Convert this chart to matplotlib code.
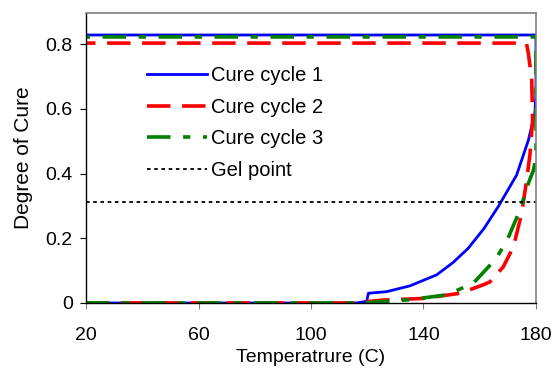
import matplotlib
matplotlib.use("Agg")
import matplotlib.pyplot as plt

plt.rcParams['font.family'] = ['Liberation Sans', 'DejaVu Sans']

# temperature (C) and degree of cure
temp_c1 = [20, 116, 119.8, 120.4, 126.9, 135.2, 144.7, 150.5, 155.9, 161.5, 166.6, 173.1, 177.3, 179.6, 180, 180, 20]
cure_c1 = [0, 0, 0.005, 0.03, 0.035, 0.053, 0.087, 0.125, 0.169, 0.23, 0.298, 0.395, 0.503, 0.587, 0.65, 0.828, 0.828]

temp_c2 = [20, 115, 125.6, 139.8, 153, 161.2, 163.6, 168.4, 172, 174.9, 176.7, 177.9, 178.8, 178.5, 177.3, 176.6, 20]
cure_c2 = [0, 0, 0.009, 0.014, 0.03, 0.056, 0.065, 0.112, 0.174, 0.277, 0.38, 0.462, 0.565, 0.689, 0.771, 0.803, 0.803]

temp_c3 = [20, 118, 135, 148.2, 157.7, 165.4, 169.5, 174.3, 177.3, 179.1, 180, 180, 20]
cure_c3 = [0, 0, 0.01, 0.025, 0.061, 0.133, 0.189, 0.287, 0.37, 0.41, 0.45, 0.822, 0.822]

gel_point = 0.312

labels = ['Cure cycle 1', 'Cure cycle 2', 'Cure cycle 3', 'Gel point']
x_ticks = [20, 60, 100, 140, 180]
y_ticks = [0, 0.2, 0.4, 0.6, 0.8]
y_ticklabels = ['0', '0.2', '0.4', '0.6', '0.8']

fig = plt.figure(figsize=(5.56, 3.69), dpi=100)
ax = fig.add_axes([0.1547, 0.1789, 0.964 - 0.1547, 0.9648 - 0.1789])

ax.plot(temp_c1, cure_c1, color='#0000ff', lw=2.0, label=labels[0])
ax.plot(temp_c2, cure_c2, color='#ff0000', lw=2.6, dashes=(6.5, 3.2), label=labels[1])
ax.plot(temp_c3, cure_c3, color='#008000', lw=2.6, dashes=(6.5, 3.5, 2, 3.5), label=labels[2])
ax.plot([20, 180], [gel_point, gel_point], color='black', lw=1.3, dashes=(2, 2), label=labels[3])

ax.set_xlim(20, 180)
ax.set_ylim(0, 0.896)
ax.set_xticks(x_ticks)
ax.set_yticks(y_ticks)
ax.set_yticklabels(y_ticklabels)

for s in ['top', 'right']:
    ax.spines[s].set_color('#808080')
    ax.spines[s].set_linewidth(1.2)
for s in ['left', 'bottom']:
    ax.spines[s].set_color('black')
    ax.spines[s].set_linewidth(1.0)

ax.tick_params(axis='both', direction='out', length=4.5, labelsize=14)
ax.tick_params(axis='x', color='#808080', pad=12.5)
ax.tick_params(axis='y', pad=5)

ax.set_xlabel('Temperatrure (C)', fontsize=14, labelpad=4)
ax.set_ylabel('Degree of Cure', fontsize=15, labelpad=9)

ax.legend(loc='upper left', bbox_to_anchor=(147 / 556, 1 - 66 / 369),
          bbox_transform=fig.transFigure, frameon=False, fontsize=14.5,
          handlelength=3.0, handletextpad=0.2, labelspacing=0.63,
          borderpad=0, borderaxespad=0)

plt.savefig('out.png', dpi=100)
plt.close()
